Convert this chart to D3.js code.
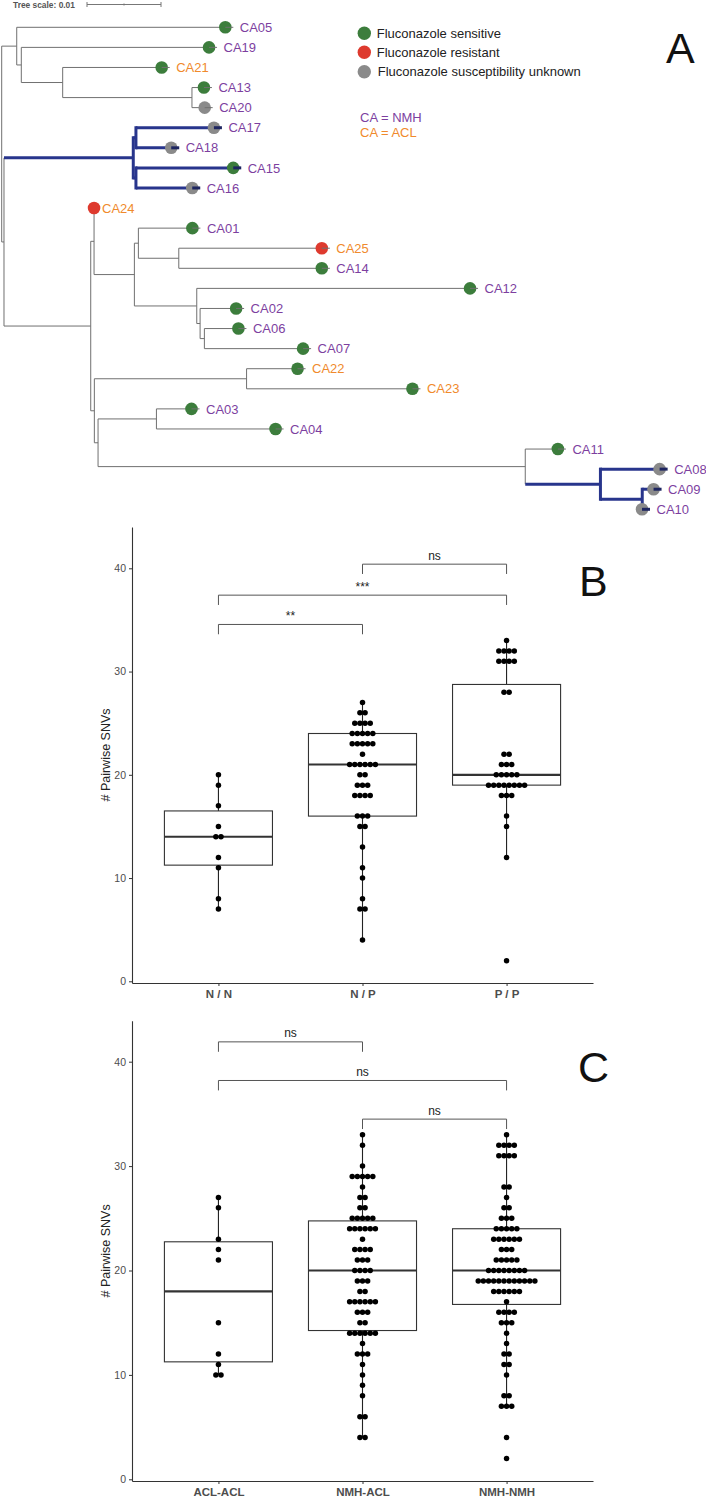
<!DOCTYPE html>
<html>
<head>
<meta charset="utf-8">
<script src="https://cdn.jsdelivr.net/npm/d3@7"></script>
<style>
  body { margin: 0; background: #fff; }
  svg { display: block; font-family: "Liberation Sans", Arial, Helvetica, sans-serif; }
</style>
</head>
<body>
<div id="chart"></div>
<script>
// ---- data ----

// phylogeny (branch lengths in substitutions/site), X and Y are the highlighted clades
const treeNewick = "((CA05:0.02927,(CA19:0.02645,(CA21:0.01446,(CA13:0.00270,CA20:0.00280):0.01747):0.00559):0.00062):0.00203," +
  "(((CA17:0.01162,CA18:0.00585):0.00036,(CA15:0.01423,CA16:0.00869):0.00036)X:0.01747," +
  "((CA24:0.00108,((CA01:0.00838,(CA25:0.02041,CA14:0.02041):0.00546):0.00054," +
  "(CA12:0.03801,(CA02:0.00595,(CA06:0.00568,CA07:0.01442):0.00058):0.00045):0.00843):0.00545):0.00045," +
  "((CA22:0.00797,CA23:0.02350):0.02057,((CA03:0.00582,CA04:0.01718):0.00789," +
  "(CA11:0.00549,(CA08:0.00908,(CA09:0.00261,CA10:0.00105):0.00565)Y:0.01016):0.05773):0.00050):0.00049):0.01172):0.00031);";
const highlightClades = ["X", "Y"];

const sensitive = ["CA05", "CA19", "CA21", "CA13", "CA15", "CA01", "CA14", "CA12", "CA02", "CA06", "CA07", "CA22", "CA23", "CA03", "CA04", "CA11"];
const resistant = ["CA24", "CA25"];
const unknown = ["CA20", "CA17", "CA18", "CA16", "CA08", "CA09", "CA10"];
const aclIsolates = ["CA21", "CA24", "CA25", "CA22", "CA23"];

const legendLabels = ["Fluconazole sensitive", "Fluconazole resistant", "Fluconazole susceptibility unknown"];
const siteLabels = ["CA = NMH", "CA = ACL"];

// pairwise SNV counts, [value, number of pairs]
const pairTypes = ["N / N", "N / P", "P / P"];
const nnSNV = [[20,1],[19,1],[17,1],[15,1],[14,2],[12,1],[11,1],[8,1],[7,1]];
const npSNV = [[27,1],[26,2],[25,4],[24,5],[23,5],[22,1],[21,6],[20,2],[19,3],[18,4],[16,3],[15,2],[13,1],[11,1],[10,1],[8,1],[7,2],[4,1]];
const ppSNV = [[33,1],[32,4],[31,4],[28,2],[22,2],[21,3],[20,5],[19,8],[18,3],[16,1],[15,1],[12,1],[2,1]];
const pairComps = [["N / N", "N / P", "**"], ["N / N", "P / P", "***"], ["N / P", "P / P", "ns"]];

const siteTypes = ["ACL-ACL", "NMH-ACL", "NMH-NMH"];
const aaSNV = [[27,1],[26,1],[23,1],[22,1],[21,1],[15,1],[12,1],[11,1],[10,2]];
const naSNV = [[33,1],[32,1],[30,1],[29,5],[28,1],[27,2],[26,2],[25,5],[24,6],[23,1],[22,4],[21,3],[20,4],[19,3],[18,2],[17,6],[16,3],[15,2],[14,6],[13,1],[12,3],[11,1],[10,1],[9,1],[8,1],[6,2],[4,2]];
const nmSNV = [[33,1],[32,4],[31,4],[28,2],[27,1],[26,2],[25,3],[24,5],[23,6],[22,3],[21,5],[20,8],[19,12],[18,6],[17,1],[16,4],[15,3],[14,1],[13,1],[12,2],[11,2],[10,1],[8,2],[7,3],[4,1],[2,1]];
const siteComps = [["ACL-ACL", "NMH-ACL", "ns"], ["ACL-ACL", "NMH-NMH", "ns"], ["NMH-ACL", "NMH-NMH", "ns"]];

const yTicks = [0, 10, 20, 30, 40];

// ---- setup ----
const svgWidth = 706;
const svgHeight = 1499;

const svg = d3.select("#chart")
  .append("svg")
  .attr("width", svgWidth)
  .attr("height", svgHeight);

const statusColor = {sensitive: "#3c7d3c", resistant: "#de3a2e", unknown: "#8a8a8a"};
const nmhColor = "#7d3f9f";
const aclColor = "#f08a2c";
const greyBranch = "#707070";
const blueBranch = "#28358c";

function statusOf(name) {
  if (sensitive.includes(name)) return "sensitive";
  if (resistant.includes(name)) return "resistant";
  return "unknown";
}

// simple newick reader
function parseNewick(s) {
  let i = 0;
  function node() {
    const n = {children: []};
    if (s[i] === "(") {
      i++;
      n.children.push(node());
      while (s[i] === ",") { i++; n.children.push(node()); }
      i++;
    }
    let name = "";
    while (i < s.length && !",():;".includes(s[i])) name += s[i++];
    n.name = name;
    n.length = 0;
    if (s[i] === ":") {
      i++;
      let num = "";
      while (i < s.length && !",();".includes(s[i])) num += s[i++];
      n.length = +num;
    }
    if (!n.children.length) delete n.children;
    return n;
  }
  return node();
}

// ---- panel A: tree ----
const root = d3.hierarchy(parseNewick(treeNewick));
root.eachBefore(d => { d.dist = d.parent ? d.parent.dist + d.data.length : 0; });

const leaves = root.leaves();
const xTree = d3.scaleLinear().domain([0, 0.01]).range([1.7, 75.7]);
const yTree = d3.scalePoint().domain(leaves.map(d => d.data.name)).range([27.3, 509.3]);

root.eachAfter(d => {
  d.px = xTree(d.dist);
  if (d.children) d.py = (d.children[0].py + d.children[d.children.length - 1].py) / 2;
  else d.py = yTree(d.data.name);
});
root.each(d => {
  d.blue = highlightClades.includes(d.data.name) || (d.parent && d.parent.blue);
});

const treeG = svg.append("g");
const nodes = root.descendants();

// grey first, blue on top
[false, true].forEach(isBlue => {
  const sel = nodes.filter(d => !!d.blue === isBlue);
  treeG.selectAll(null)
    .data(sel.filter(d => d.parent))
    .enter()
    .append("line")
    .attr("x1", d => d.parent.px)
    .attr("x2", d => d.px - (d.children ? 0 : 8))
    .attr("y1", d => d.py)
    .attr("y2", d => d.py)
    .attr("stroke", isBlue ? blueBranch : greyBranch)
    .attr("stroke-width", isBlue ? 3 : 1);
  treeG.selectAll(null)
    .data(sel.filter(d => d.children))
    .enter()
    .append("line")
    .attr("x1", d => d.px)
    .attr("x2", d => d.px)
    .attr("y1", d => d.children[0].py)
    .attr("y2", d => d.children[d.children.length - 1].py)
    .attr("stroke", isBlue ? blueBranch : greyBranch)
    .attr("stroke-width", isBlue ? 3 : 1)
    .attr("stroke-linecap", isBlue ? "square" : "butt");
});

// tip symbols
treeG.selectAll("circle.tip")
  .data(leaves)
  .enter()
  .append("circle")
  .attr("class", "tip")
  .attr("cx", d => d.px - 8)
  .attr("cy", d => d.py)
  .attr("r", 6.3)
  .attr("fill", d => statusColor[statusOf(d.data.name)]);

// short tip connectors over the symbols
treeG.selectAll(null)
  .data(leaves)
  .enter()
  .append("line")
  .attr("x1", d => d.px - 8)
  .attr("x2", d => d.px)
  .attr("y1", d => d.py)
  .attr("y2", d => d.py)
  .attr("stroke", d => d.blue ? "#1d2560" : greyBranch)
  .attr("stroke-width", d => d.blue ? 3 : 1)
  .attr("opacity", d => d.data.name === "CA24" ? 0 : 1);

treeG.selectAll("text.tip")
  .data(leaves)
  .enter()
  .append("text")
  .attr("x", d => d.px + (d.data.name === "CA24" ? 0 : 6.5))
  .attr("y", d => d.py)
  .attr("dy", "0.36em")
  .attr("font-size", 13)
  .attr("fill", d => aclIsolates.includes(d.data.name) ? aclColor : nmhColor)
  .text(d => d.data.name);

// tree scale
svg.append("text")
  .attr("x", 13)
  .attr("y", 7.5)
  .attr("font-size", 8.4)
  .attr("font-weight", "bold")
  .attr("fill", "#555")
  .text("Tree scale: 0.01");
const scaleG = svg.append("g").attr("stroke", "#777").attr("stroke-width", 1);
const sbX = d3.scaleLinear().domain([0, 0.01]).range([87, 161]);
scaleG.append("line").attr("x1", sbX(0)).attr("x2", sbX(0.01)).attr("y1", 4.5).attr("y2", 4.5);
[0, 0.005, 0.01].forEach(v => {
  scaleG.append("line").attr("x1", sbX(v)).attr("x2", sbX(v))
    .attr("y1", v === 0.005 ? 3.5 : 2).attr("y2", v === 0.005 ? 5.5 : 7);
});

// legend
const legendKeys = ["sensitive", "resistant", "unknown"];
const legendY = [33.3, 52.3, 71.7];
legendKeys.forEach((k, i) => {
  svg.append("circle").attr("cx", 364.3).attr("cy", legendY[i]).attr("r", 6.7).attr("fill", statusColor[k]);
  svg.append("text").attr("x", 376.7 + (i === 2 ? 1 : 0)).attr("y", legendY[i]).attr("dy", "0.36em")
    .attr("font-size", 13).attr("fill", "#222").text(legendLabels[i]);
});
svg.append("text").attr("x", 360).attr("y", 117.3).attr("dy", "0.36em")
  .attr("font-size", 13).attr("fill", nmhColor).text(siteLabels[0]);
svg.append("text").attr("x", 360).attr("y", 132.3).attr("dy", "0.36em")
  .attr("font-size", 13).attr("fill", aclColor).text(siteLabels[1]);

svg.append("text").attr("x", 666).attr("y", 62.7).attr("font-size", 43).attr("fill", "#111").text("A");

// ---- panels B and C: box + dot plots ----
function drawPanel(p) {
  const g = svg.append("g");
  const left = 132, right = 593;

  const x = d3.scalePoint().domain(p.cats).range([left, right]).padding(0.6);
  const ppu = (p.zeroY - p.fortyY) / 40;
  const y = d3.scaleLinear()
    .domain([(p.zeroY - p.bottom) / ppu, (p.zeroY - p.top) / ppu])
    .range([p.bottom, p.top]);
  const boxW = x.step() * 0.75;

  // y axis
  const yAxis = g.append("g")
    .attr("transform", `translate(${left},0)`)
    .call(d3.axisLeft(y).tickValues(yTicks).tickSize(3).tickSizeOuter(0).tickPadding(3));
  yAxis.select(".domain").attr("stroke", "#333").attr("stroke-width", 1.1);
  yAxis.selectAll(".tick line").attr("stroke", "#333");
  yAxis.selectAll(".tick text").attr("fill", "#4d4d4d").attr("font-size", 10.5)
    .attr("font-family", "Liberation Sans, Arial, sans-serif");

  // x axis
  const xAxis = g.append("g")
    .attr("transform", `translate(0,${p.bottom})`)
    .call(d3.axisBottom(x).tickSize(3).tickSizeOuter(0).tickPadding(4));
  xAxis.select(".domain").attr("stroke", "#333").attr("stroke-width", 1.1);
  xAxis.selectAll(".tick line").attr("stroke", "#333");
  xAxis.selectAll(".tick text").attr("fill", "#4d4d4d").attr("font-size", 11.5)
    .attr("font-weight", "bold").attr("font-family", "Liberation Sans, Arial, sans-serif");

  // y title
  g.append("text")
    .attr("transform", `translate(110,${(p.top + p.bottom) / 2}) rotate(-90)`)
    .attr("text-anchor", "middle")
    .attr("font-size", 12.5)
    .attr("fill", "#222")
    .text("# Pairwise SNVs");

  p.groups.forEach((grp, i) => {
    const cx = x(p.cats[i]);
    const vals = [];
    grp.forEach(([v, n]) => { for (let k = 0; k < n; k++) vals.push(v); });
    vals.sort(d3.ascending);
    const q1 = d3.quantile(vals, 0.25);
    const med = d3.quantile(vals, 0.5);
    const q3 = d3.quantile(vals, 0.75);
    const iqr = q3 - q1;
    const lo = d3.min(vals.filter(v => v >= q1 - 1.5 * iqr));
    const hi = d3.max(vals.filter(v => v <= q3 + 1.5 * iqr));

    g.append("line").attr("x1", cx).attr("x2", cx).attr("y1", y(lo)).attr("y2", y(hi))
      .attr("stroke", "#222").attr("stroke-width", 1.1);
    g.append("rect")
      .attr("x", cx - boxW / 2).attr("width", boxW)
      .attr("y", y(q3)).attr("height", y(q1) - y(q3))
      .attr("fill", "#fff").attr("stroke", "#333").attr("stroke-width", 1.1);
    g.append("line").attr("x1", cx - boxW / 2).attr("x2", cx + boxW / 2)
      .attr("y1", y(med)).attr("y2", y(med))
      .attr("stroke", "#333").attr("stroke-width", 2.2);

    // centred dot stacks
    const dots = [];
    grp.forEach(([v, n]) => {
      for (let k = 0; k < n; k++) dots.push({v: v, off: (k - (n - 1) / 2) * 5.15});
    });
    g.selectAll(null)
      .data(dots)
      .enter()
      .append("circle")
      .attr("cx", d => cx + d.off)
      .attr("cy", d => y(d.v))
      .attr("r", 2.75)
      .attr("fill", "#000");
  });

  // significance brackets
  p.comps.forEach((c, i) => {
    const x1 = x(c[0]), x2 = x(c[1]);
    const by = y(p.compY[i]);
    const leg = y(p.compY[i] - 0.95);
    g.append("path")
      .attr("d", `M${x1},${leg}V${by}H${x2}V${leg}`)
      .attr("fill", "none")
      .attr("stroke", "#555")
      .attr("stroke-width", 1);
    g.append("text")
      .attr("x", (x1 + x2) / 2)
      .attr("y", by - 4.5)
      .attr("text-anchor", "middle")
      .attr("font-size", 12)
      .attr("fill", "#222")
      .text(c[2]);
  });

  svg.append("text").attr("x", p.letterX).attr("y", p.letterY)
    .attr("font-size", 43).attr("fill", "#111").text(p.letter);
}

drawPanel({
  cats: pairTypes, groups: [nnSNV, npSNV, ppSNV], comps: pairComps,
  compY: [34.56, 37.4, 40.4],
  top: 527, bottom: 983, zeroY: 981.3, fortyY: 568.3,
  letter: "B", letterX: 579, letterY: 596
});

drawPanel({
  cats: siteTypes, groups: [aaSNV, naSNV, nmSNV], comps: siteComps,
  compY: [41.9, 38.2, 34.5],
  top: 1020.7, bottom: 1481, zeroY: 1479.3, fortyY: 1061.7,
  letter: "C", letterX: 578, letterY: 1082
});
</script>
</body>
</html>
